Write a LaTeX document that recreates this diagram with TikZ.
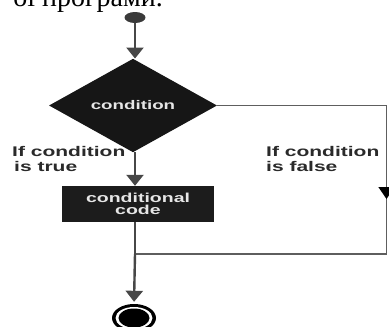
\documentclass[tikz,border=0pt]{standalone}
\usepackage{graphicx}
\usepackage{fontspec}
\setmainfont{Liberation Sans}
\newfontfamily\serifcyr{Liberation Serif}
\usetikzlibrary{shapes.geometric,arrows.meta}
\definecolor{linegray}{HTML}{474747}
\definecolor{routegray}{HTML}{5E5E5E}
\definecolor{labelgray}{HTML}{2A2A2A}
\definecolor{diamondblack}{HTML}{161616}
\definecolor{boxblack}{HTML}{1C1C1C}
\definecolor{lighttext}{HTML}{E6E6E6}
\definecolor{startgray}{HTML}{3A3A3A}
\newcommand{\wide}[1]{\scalebox{1.5}[1]{#1}}
\begin{document}
\begin{tikzpicture}[x=1pt,y=-1pt,
  flow/.style={draw=linegray, line width=2.4pt, -{Triangle[width=17pt,length=11pt]}},
  flowplain/.style={draw=linegray, line width=2.4pt},
  route/.style={draw=routegray, line width=1.4pt},
  routearrow/.style={draw=routegray, line width=1.4pt, -{Triangle[width=16pt,length=12pt,color=black]}},
  lbl/.style={font=\bfseries\fontsize{14}{15}\selectfont, text=labelgray, inner sep=0pt, align=left},
  intext/.style={text=lighttext, font=\bfseries\fontsize{12.5}{12.5}\selectfont}
]
\useasboundingbox (0,0) rectangle (389,327);
\clip (0,0) rectangle (389,327);

% cropped page text at the top
\node[anchor=base east, inner sep=0pt, font=\serifcyr\fontsize{28}{28}\selectfont, text=black] (toptext) at (163,6) {ої програми.};

% start
\node[ellipse, fill=startgray, minimum width=21pt, minimum height=11pt, inner sep=0pt] (start) at (135,17.5) {};

% decision
\node[diamond, fill=diamondblack, minimum width=168pt, minimum height=67pt, inner sep=0pt, intext] (cond) at (133,105.5) {\wide{condition}};

% conditional code
\node[rectangle, fill=boxblack, minimum width=152pt, minimum height=36pt, inner sep=0pt, align=center, text=lighttext, font=\bfseries\fontsize{13}{12.5}\selectfont] (code) at (138,204) {\wide{conditional}\\\wide{code}};

% end
\node[ellipse, fill=black, minimum width=44pt, minimum height=28pt, inner sep=0pt] (endo) at (134,318) {};
\node[ellipse, fill=white, minimum width=37pt, minimum height=22pt, inner sep=0pt] (endw) at (134,318) {};
\node[ellipse, fill=black, minimum width=31pt, minimum height=19pt, inner sep=0pt] (endi) at (134,318) {};

% coordinates of the false route
\coordinate (ctr) at (386.5,105.5);
\coordinate (cmid) at (386.5,199);
\coordinate (cbr) at (386.5,254);
\coordinate (join) at (135,254);

% connectors
\draw[flow] (start.south) -- (start.south |- cond.north);
\draw[flow] (start.south |- cond.south) -- (start.south |- code.north);
\draw[route] (cond.east) -- (ctr) -- (cbr) -- (join);
\draw[routearrow] (ctr) -- (cmid);
\draw[flowplain] (join |- code.south) -- (join);
\draw[flow, shorten >=2pt] (join) -- (endo.north);

% labels
\node[lbl, anchor=north west] (ltrue) at (12,146.5) {\wide{If condition}\\\hspace{2pt}\wide{is true}};
\node[lbl, anchor=north west] (lfalse) at (266,146.5) {\wide{If condition}\\\wide{is false}};
\end{tikzpicture}
\end{document}
